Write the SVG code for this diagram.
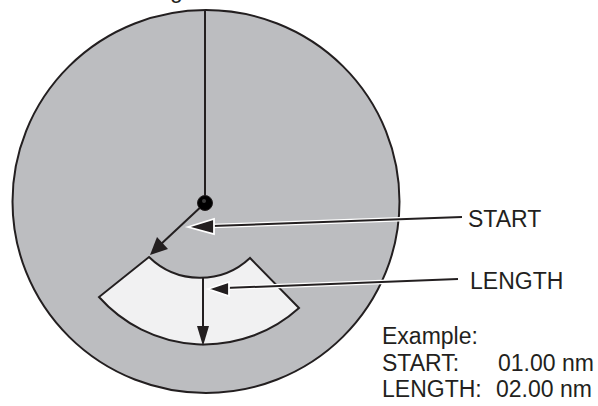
<svg xmlns="http://www.w3.org/2000/svg" width="598" height="406" viewBox="0 0 598 406">
<style>
  .lbl { font-family: "Liberation Sans", Arial, sans-serif; font-size: 23px; fill: #231f20; }
  .ln { stroke: #231f20; stroke-width: 2; fill: none; }
  .halo { stroke: #ffffff; stroke-width: 4.5; fill: none; }
  .head { fill: #231f20; }
  .headw { fill: #231f20; stroke: #ffffff; stroke-width: 1.8; stroke-linejoin: miter; }
</style>
<rect width="598" height="406" fill="#ffffff"/>
<text class="lbl" x="170" y="-2">g</text>
<g id="display">
  <ellipse cx="206" cy="201.5" rx="193.5" ry="191.5" fill="#bcbdc0" stroke="#231f20" stroke-width="2"/>
</g>
<g id="sector">
  <path d="M149,257 A73,73 0 0 0 250,258 L299,308 A141,141 0 0 1 99,297 Z" fill="#f1f1f2" stroke="#231f20" stroke-width="2" stroke-linejoin="miter"/>
</g>
<g id="connectors">
  <line class="ln" x1="205" y1="10" x2="205" y2="203"/>
  <line class="ln" x1="205" y1="203" x2="160" y2="245"/>
  <polygon class="head" points="150,255 157,237 168,249"/>
  <line class="ln" x1="203" y1="277" x2="203" y2="330"/>
  <polygon class="head" points="203,346 197,326 209,326"/>
  <line class="halo" x1="462" y1="217" x2="212" y2="226"/>
  <line class="ln" x1="462" y1="217" x2="212" y2="226"/>
  <polygon class="headw" points="188,227 214,219 214,234"/>
  <line class="halo" x1="458" y1="279" x2="225" y2="288"/>
  <line class="ln" x1="458" y1="279" x2="225" y2="288"/>
  <polygon class="headw" points="208,289 229,282 229,296"/>
</g>
<g id="center">
  <circle cx="205" cy="203" r="7.5" fill="#000000" stroke="#231f20" stroke-width="1"/>
  <circle cx="204" cy="201" r="2" fill="#3a3a3a"/>
</g>
<g id="labels">
  <text class="lbl" x="468" y="227">START</text>
  <text class="lbl" x="470" y="289">LENGTH</text>
  <text class="lbl" x="382" y="344">Example:</text>
  <text class="lbl" x="382" y="371">START:</text>
  <text class="lbl" x="498" y="371">01.00 nm</text>
  <text class="lbl" x="382" y="397">LENGTH:</text>
  <text class="lbl" x="496" y="397">02.00 nm</text>
</g>
</svg>
